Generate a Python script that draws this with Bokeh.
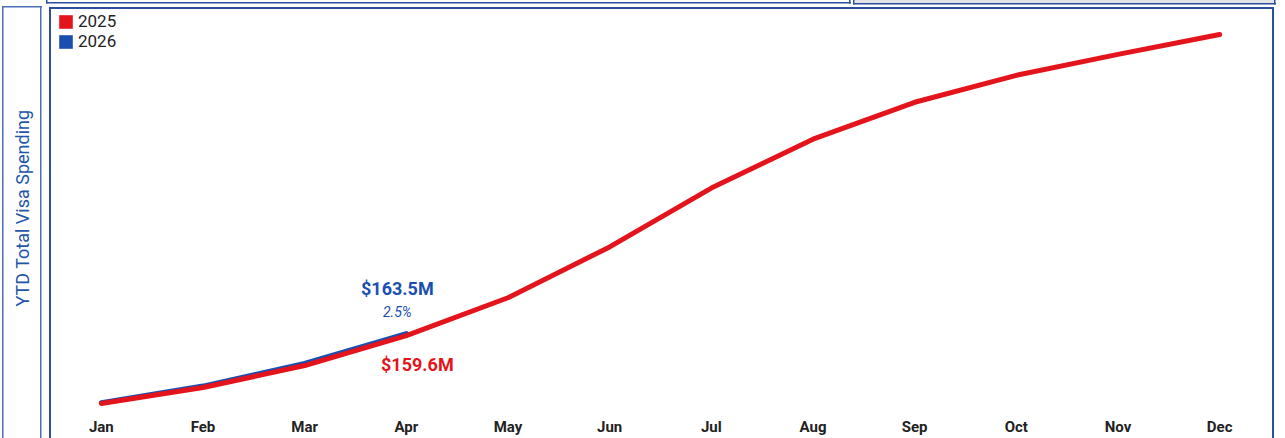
from bokeh.plotting import figure
from bokeh.models import Range1d, FactorRange, Legend, LegendItem, FixedTicker
from bokeh.core.properties import value
from bokeh.embed import file_html
from bokeh.resources import INLINE

# ---- data (values in $M, year-to-date cumulative) ----
months = ["Jan", "Feb", "Mar", "Apr", "May", "Jun", "Jul", "Aug", "Sep", "Oct", "Nov", "Dec"]
ytd_2025 = [29.0, 59.7, 102.0, 159.6, 232.5, 330.4, 443.7, 537.8, 608.8, 660.7, 701.0, 739.4]
months_2026 = ["Jan", "Feb", "Mar", "Apr"]
ytd_2026 = [30.5, 62.5, 106.0, 163.5]
growth_label = ["2.5%"]
series_names = ["2025", "2026"]
y_title = "YTD Total Visa Spending"

RED = "#e4141c"
BLUE = "#1a4fb0"
BORDER = "#2b4e9e"
FONT = "Roboto"


def bar(color, x, y, w, h):
    return f"linear-gradient({color},{color}) {x}px {y}px / {w}px {h}px no-repeat"


# container frames of the report page, painted behind the transparent canvas
frame_layers = [
    # main visual box
    bar(BORDER, 49, 7, 1225, 2), bar(BORDER, 49, 7, 2, 460), bar(BORDER, 1272, 7, 2, 460),
    # axis-title box
    bar("#4a6fb5", 2, 6, 40, 1.5), bar("#4a6fb5", 2, 6, 1.5, 460), bar("#4a6fb5", 40, 6, 1.5, 460),
    # header boxes (mostly above the view)
    bar(BORDER, 46, 2, 805, 1.5), bar(BORDER, 46, 0, 1.5, 3.5), bar(BORDER, 849, 0, 1.5, 3.5),
    bar(BORDER, 853, 3, 423, 1.5), bar(BORDER, 853, 0, 1.5, 4.5), bar(BORDER, 1274, 0, 1.5, 4.5),
    bar("#e4e4e4", 853, 0, 422, 3),
]

p = figure(width=1285, height=438,
           x_range=FactorRange(*months, range_padding=0),
           y_range=Range1d(23.2, 787.4),
           output_backend="svg", toolbar_location=None,
           min_border_left=50, min_border_right=15,
           min_border_top=9, min_border_bottom=31)
p.background_fill_alpha = 0
p.border_fill_alpha = 0
p.outline_line_color = None
p.xgrid.visible = False
p.ygrid.visible = False
p.styles = {"background": ", ".join(frame_layers) + ", white"}

# hidden area renderers used only for square legend swatches
sw25 = p.vbar(x=months, top=ytd_2025, width=0.5, fill_color=RED, line_color=None, visible=False)
sw26 = p.vbar(x=months_2026, top=ytd_2026, width=0.5, fill_color=BLUE, line_color=None, visible=False)

p.line(months_2026, ytd_2026, line_color=BLUE, line_width=5, line_cap="round", line_join="round")
p.line(months, ytd_2025, line_color=RED, line_width=5, line_cap="round", line_join="round")

# data labels at latest month
i = len(ytd_2026) - 1
p.text(x=[months_2026[i]], y=[ytd_2026[i]], text=[f"${ytd_2026[i]:.1f}M"],
       x_offset=-9, y_offset=-45, text_align="center", text_baseline="middle",
       text_font=value(FONT), text_font_style="bold", text_font_size="18px", text_color=BLUE)
p.text(x=[months_2026[i]], y=[ytd_2026[i]], text=growth_label,
       x_offset=-9, y_offset=-22, text_align="center", text_baseline="middle",
       text_font=value(FONT), text_font_style="italic", text_font_size="14px", text_color=BLUE)
p.text(x=[months[i]], y=[ytd_2025[i]], text=[f"${ytd_2025[i]:.1f}M"],
       x_offset=11, y_offset=29, text_align="center", text_baseline="middle",
       text_font=value(FONT), text_font_style="bold", text_font_size="18px", text_color=RED)

# axes
xa = p.xaxis[0]
xa.axis_line_color = None
xa.major_tick_line_color = None
xa.minor_tick_line_color = None
xa.major_tick_out = 0
xa.major_tick_in = 0
xa.major_label_standoff = 11
xa.major_label_text_font = FONT
xa.major_label_text_font_style = "bold"
xa.major_label_text_font_size = "15px"
xa.major_label_text_color = "#222222"

ya = p.yaxis[0]
ya.ticker = FixedTicker(ticks=[])
ya.axis_line_color = None
ya.major_tick_line_color = None
ya.minor_tick_line_color = None
ya.major_tick_out = 0
ya.major_tick_in = 0
ya.axis_label = y_title
ya.axis_label_text_font = FONT
ya.axis_label_text_font_style = "normal"
ya.axis_label_text_font_size = "18px"
ya.axis_label_text_color = "#2456a8"
ya.axis_label_standoff = 18

legend = Legend(items=[LegendItem(label=series_names[0], renderers=[sw25]),
                       LegendItem(label=series_names[1], renderers=[sw26])],
                location=(7, 355), orientation="vertical",
                glyph_width=17, glyph_height=17, label_height=20,
                label_standoff=4, spacing=0, padding=0, margin=0,
                label_text_font=FONT, label_text_font_size="17px",
                label_text_color="#222222",
                border_line_color=None, background_fill_alpha=0)
p.add_layout(legend, "center")

open("out.html", "w").write(file_html(p, INLINE))
